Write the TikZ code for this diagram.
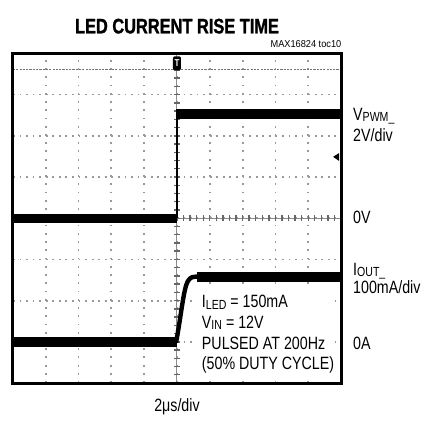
\documentclass[tikz,border=0pt]{standalone}
\usepackage{fontspec}
\setmainfont[FakeStretch=0.8]{Liberation Sans}
\newfontfamily\titlefont[FakeStretch=0.78,FakeBold=1.2]{Liberation Sans Bold}
\newfontfamily\notefont[FakeStretch=0.92]{Liberation Sans}
\usepackage{tikz}

\newcommand{\lowtext}[1]{\raisebox{-0.9pt}{\fontsize{6.6}{7}\selectfont #1}}

\tikzset{
	lbl/.style={anchor=base west, inner sep=0pt, font=\fontsize{8.9}{10.3}\selectfont},
	hdots/.style={black!40, line width=0.9pt, dash pattern=on 0.9pt off 2.38pt},
	vdots/.style={black!40, line width=0.9pt, dash pattern=on 0.9pt off 3.22pt},
	axis/.style={black!45, line width=0.5pt},
	tick/.style={black!60, line width=0.7pt},
	trigline/.style={black!55, line width=0.9pt, dash pattern=on 1.1pt off 0.55pt},
	trace/.style={line width=5pt},
}

\begin{document}
\begin{tikzpicture}[x=16.4pt,y=20.6pt]
	\useasboundingbox (-0.396,-0.971) rectangle (12.835,9.296);
	% grid
	\foreach \x in {1,...,9}
		\draw[vdots] (\x,0) -- (\x,8);
	\foreach \y in {1,...,7}
		\draw[hdots] (0,\y) -- (10,\y);
	\draw[axis] (5,0) -- (5,8);
	\draw[axis] (0,4) -- (10,4);
	\foreach \t in {0,0.2,...,10}
		\draw[tick] (\t,3.927) -- (\t,4.073);
	\foreach \t in {0,0.2,...,8}
		\draw[tick] (4.909,\t) -- (5.091,\t);
	\draw[trigline] (0,7.61) -- (10,7.61);

	% blank area under the conditions
	\fill[white] (5.55,0.07) rectangle (9.82,2.38);

	% V_PWM trace
	\draw[trace, line width=4.6pt] (0,4) -- (5,4);
	\draw[line width=0.8pt] (5,4) -- (5,6.53);
	\draw[trace] (4.98,6.53) -- (10,6.53);

	% I_OUT trace
	\draw[trace, line width=5.3pt] (0,1) -- (5,1);
	\draw[line width=2.2pt] (4.97,0.98) .. controls (5.12,1.6) and (5.2,2.3) .. (5.33,2.47)
		.. controls (5.43,2.58) .. (5.75,2.585);
	\draw[trace] (5.6,2.585) -- (10,2.585);

	% markers
	\node[fill=black, rounded corners=1pt, minimum width=4pt, minimum height=7pt,
		inner sep=0pt, text=white, font=\fontsize{5}{5}\selectfont\bfseries] (trig) at (5,7.76) {T};
	\fill (9.76,5.49) -- (9.94,5.39) -- (9.94,5.58) -- cycle;

	% frame
	\draw[line width=1.5pt] (0,0) rectangle (10,8);

	% titles
	\node[anchor=base, inner sep=0pt, font=\titlefont\fontsize{10.5}{12}\selectfont] (title)
		at (5,8.486) {LED CURRENT RISE TIME};
	\node[anchor=base east, inner sep=0pt, font=\notefont\fontsize{5}{6}\selectfont] (toc)
		at (10.02,8.148) {MAX16824 toc10};

	% channel labels
	\node[lbl] (vpwm) at (10.36,6.38) {V\lowtext{PWM\_}};
	\node[lbl] (vdiv) at (10.36,5.85) {2V/div};
	\node[lbl] (vzero) at (10.36,3.876) {0V};
	\node[lbl] (iout) at (10.36,2.62) {I\lowtext{OUT\_}};
	\node[lbl] (idiv) at (10.36,2.177) {100mA/div};
	\node[lbl] (izero) at (10.36,0.818) {0A};

	% conditions
	\node[lbl] (iled) at (5.75,1.833) {I\lowtext{LED} = 150mA};
	\node[lbl] (vin) at (5.75,1.335) {V\lowtext{IN} = 12V};
	\node[lbl] (pulse) at (5.75,0.818) {PULSED AT 200Hz};
	\node[lbl] (duty) at (5.75,0.333) {(50\% DUTY CYCLE)};

	\node[lbl, anchor=base] (tdiv) at (5,-0.68) {2μs/div};
\end{tikzpicture}
\end{document}
